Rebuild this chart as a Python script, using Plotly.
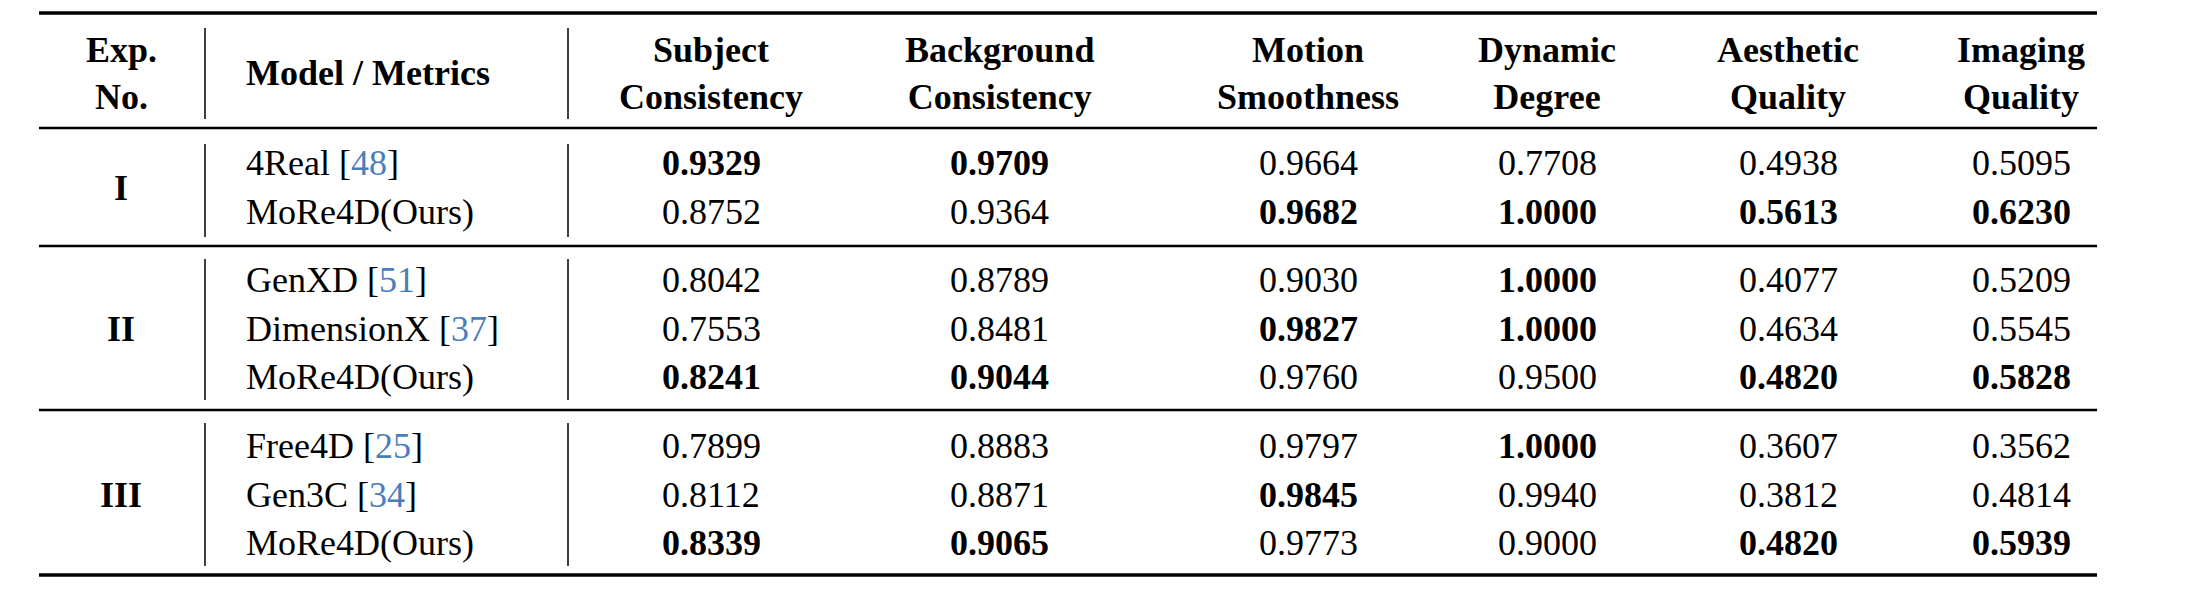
import plotly.graph_objects as go

headers = ["Exp.<br>No.", "Model / Metrics", "Subject<br>Consistency", "Background<br>Consistency",
           "Motion<br>Smoothness", "Dynamic<br>Degree", "Aesthetic<br>Quality", "Imaging<br>Quality"]
groups = ["I", "II", "III"]
models = [["4Real", "MoRe4D(Ours)"],
          ["GenXD", "DimensionX", "MoRe4D(Ours)"],
          ["Free4D", "Gen3C", "MoRe4D(Ours)"]]
cites = [["48", None], ["51", "37", None], ["25", "34", None]]
values = [
    [[0.9329, 0.9709, 0.9664, 0.7708, 0.4938, 0.5095],
     [0.8752, 0.9364, 0.9682, 1.0000, 0.5613, 0.6230]],
    [[0.8042, 0.8789, 0.9030, 1.0000, 0.4077, 0.5209],
     [0.7553, 0.8481, 0.9827, 1.0000, 0.4634, 0.5545],
     [0.8241, 0.9044, 0.9760, 0.9500, 0.4820, 0.5828]],
    [[0.7899, 0.8883, 0.9797, 1.0000, 0.3607, 0.3562],
     [0.8112, 0.8871, 0.9845, 0.9940, 0.3812, 0.4814],
     [0.8339, 0.9065, 0.9773, 0.9000, 0.4820, 0.5939]],
]
bold = [
    [[1, 1, 0, 0, 0, 0], [0, 0, 1, 1, 1, 1]],
    [[0, 0, 0, 1, 0, 0], [0, 0, 1, 1, 0, 0], [1, 1, 0, 0, 1, 1]],
    [[0, 0, 0, 1, 0, 0], [0, 0, 1, 0, 0, 0], [1, 1, 0, 0, 1, 1]],
]

W, H = 2188, 596
FONT = "Times New Roman, Liberation Serif, serif"
FS = 36
D = 8  # page body offset
col_x = [121 - D, 244 - D, 711 - D, 999 - D, 1308 - D, 1547 - D, 1788 - D, 2021 - D]
header_y = 73 - D
row_ys = [[y - D for y in r] for r in [[163, 212], [280, 329, 377], [446, 495, 543]]]
rules = [(11 - D + 2, 3.5), (128 - D, 2.5), (246 - D, 2.5), (410 - D, 2.5), (575 - D, 3.5)]
vsegs = [(28 - D, 119 - D), (144 - D, 237 - D), (259 - D, 400 - D), (423 - D, 566 - D)]
vx = [205 - D, 568 - D]
x0, x1 = 39 - D, 2097 - D
CITE = "#4a7ebb"

fig = go.Figure()
ann = []
for i, h in enumerate(headers):
    ann.append(dict(x=col_x[i], y=header_y, text="<b>" + h + "</b>",
                    xanchor="left" if i == 1 else "center"))
for g, name in enumerate(groups):
    ys = row_ys[g]
    ann.append(dict(x=col_x[0], y=sum(ys) / len(ys), text="<b>" + name + "</b>", xanchor="center"))
    for r, m in enumerate(models[g]):
        t = m
        if cites[g][r]:
            t += ' [<span style="color:%s">%s</span>]' % (CITE, cites[g][r])
        ann.append(dict(x=col_x[1], y=ys[r], text=t, xanchor="left"))
        for c, v in enumerate(values[g][r]):
            s = "%.4f" % v
            if bold[g][r][c]:
                s = "<b>" + s + "</b>"
            ann.append(dict(x=col_x[c + 2], y=ys[r], text=s, xanchor="center"))
for a in ann:
    a.update(xref="x", yref="y", showarrow=False, yanchor="middle",
             font=dict(family=FONT, size=FS, color="black"))

shapes = []
for y, w in rules:
    shapes.append(dict(type="line", xref="x", yref="y", x0=x0, x1=x1, y0=y, y1=y,
                       line=dict(color="black", width=w)))
for vxx in vx:
    for a, b in vsegs:
        shapes.append(dict(type="line", xref="x", yref="y", x0=vxx, x1=vxx, y0=a, y1=b,
                           line=dict(color="black", width=1.5)))

fig.update_layout(width=W, height=H, margin=dict(l=0, r=0, t=0, b=0),
                  paper_bgcolor="white", plot_bgcolor="white",
                  xaxis=dict(range=[0, W], visible=False, fixedrange=True),
                  yaxis=dict(range=[H, 0], visible=False, fixedrange=True),
                  annotations=ann, shapes=shapes, showlegend=False)
fig.write_html("out.html")
